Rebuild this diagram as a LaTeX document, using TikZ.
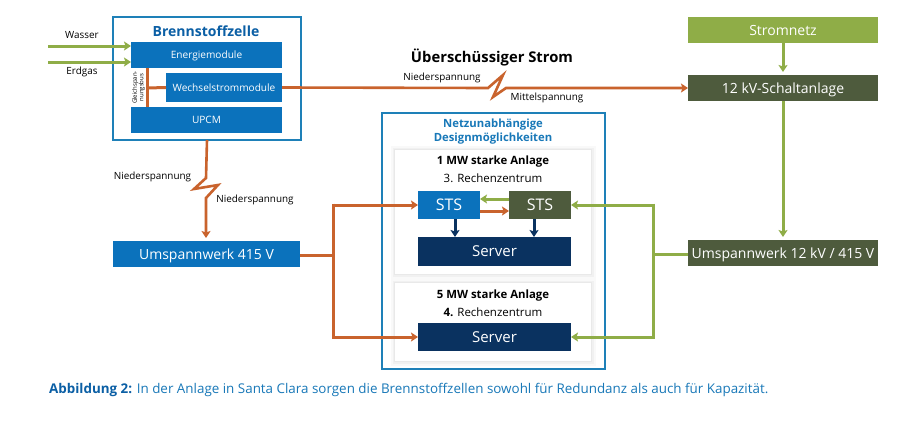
\documentclass[tikz,border=0pt]{standalone}
\usepackage{fontspec}
\setmainfont{Open Sans}
\usetikzlibrary{arrows.meta,calc}
\definecolor{orangeline}{HTML}{C9632D}
\definecolor{greenline}{HTML}{8FAD47}
\definecolor{bluebox}{HTML}{0B72BC}
\definecolor{navybox}{HTML}{0A3260}
\definecolor{darkgreen}{HTML}{4E5B3D}
\definecolor{framebl}{HTML}{1E80B8}
\definecolor{capdark}{HTML}{0B5FA5}
\definecolor{captext}{HTML}{1878B8}
\tikzset{
  cbox/.style={inner sep=0pt,outer sep=0pt,text=white},
  frame/.style={draw=framebl,line width=1.8pt,fill=white,inner sep=0pt,outer sep=0pt},
  panel/.style={fill=white,inner sep=0pt,outer sep=0pt,
    preaction={draw=black,opacity=.025,line width=9pt},
    preaction={draw=black,opacity=.03,line width=5pt},
    preaction={draw=black,opacity=.03,line width=2pt}},
  lab/.style={font=\fontsize{9.9}{11}\selectfont,text=black,inner sep=0pt},
  wire/.style={line width=3pt},
  org/.style={wire,draw=orangeline},
  grn/.style={wire,draw=greenline},
  nav/.style={wire,draw=navybox},
  head/.style={-{Stealth[length=7pt,width=9pt,inset=1.5pt]}},
  ptitle/.style={font=\bfseries\fontsize{11.4}{13}\selectfont,inner sep=0pt},
  psub/.style={font=\fontsize{11.5}{13}\selectfont,inner sep=0pt},
}
\newcommand{\cb}[8]{\node[cbox,fill=#2,minimum width=#5 pt,minimum height=#6 pt,font=\fontsize{#7}{#7}\selectfont] (#1) at (#3,#4) {\raisebox{-0.36em}[0pt][0pt]{#8}};}
\begin{document}
\begin{tikzpicture}[x=1pt,y=-1pt]
\useasboundingbox (0,0) rectangle (900,437);
\fill[white] (0,0) rectangle (900,437);

% frames
\node[frame,minimum width=188pt,minimum height=123pt] (fc) at (207,78.5) {};
\node[frame,minimum width=223pt,minimum height=256pt] (nf) at (493.5,241) {};
\node[panel,minimum width=196pt,minimum height=124pt] (p1) at (493,212) {};
\node[panel,minimum width=196pt,minimum height=78pt] (p2) at (493,322) {};

% fuel cell
\cb{em}{bluebox}{206.5}{55}{151}{26}{10.1}{Energiemodule}
\cb{ws}{bluebox}{224}{87.5}{116}{29}{10.1}{Wechselstrommodule}
\cb{up}{bluebox}{206.5}{120}{151}{26}{10.1}{UPCM}
\node[font=\bfseries\fontsize{14}{16}\selectfont,text=capdark,inner sep=0pt] (fct) at (206,31) {Brennstoffzelle};
\node[font=\fontsize{6}{6.6}\selectfont,rotate=90,align=center,inner sep=0pt] (bus) at (138.5,87.5) {Gleichspan-\\nungsbus};

% other boxes
\cb{sn}{greenline}{783}{30}{190}{26}{14}{Stromnetz}
\cb{sa}{darkgreen}{783}{88}{190}{26}{14}{12 kV-Schaltanlage}
\cb{uh}{darkgreen}{783}{253}{190}{26}{14}{Umspannwerk 12 kV / 415 V}
\cb{ul}{bluebox}{206.5}{254}{187}{26}{14}{Umspannwerk 415 V}
\cb{s1}{bluebox}{449}{205}{62}{28}{16}{STS}
\cb{s2}{darkgreen}{540}{205}{62}{28}{16}{STS}
\cb{sv1}{navybox}{494.5}{251.5}{153}{29}{15}{Server}
\cb{sv2}{navybox}{494.5}{337}{153}{28}{15}{Server}

% frame titles
\node[font=\bfseries\fontsize{11.3}{14}\selectfont,text=captext,align=center,inner sep=0pt] (nt) at (493,132) {Netzunabhängige\\Designmöglichkeiten};
\node[ptitle] (t1) at (493,162) {1 MW starke Anlage};
\node[psub] (t1b) at (493,178) {3. Rechenzentrum};
\node[ptitle] (t2) at (493,295.5) {5 MW starke Anlage};
\node[psub] (t2b) at (493,312) {\textbf{4.} Rechenzentrum};

% labels
\node[lab] (wa) at (82,35) {Wasser};
\node[lab] (eg) at (82,72) {Erdgas};
\node[font=\bfseries\fontsize{14.8}{16}\selectfont,inner sep=0pt] (ue) at (492,57) {Überschüssiger Strom};
\node[lab] (n1) at (442,77.5) {Niederspannung};
\node[lab] (m1) at (547,97.5) {Mittelspannung};
\node[lab] (n2) at (152.5,177) {Niederspannung};
\node[lab] (n3) at (255,200) {Niederspannung};

% coordinates
\coordinate (wain) at (48,46);
\coordinate (egin) at (48,62);
\coordinate (z1a) at (488,88);
\coordinate (z1b) at (503,75);
\coordinate (z1c) at (493,97);
\coordinate (z1d) at (506,88);
\coordinate (z2a) at (206,178);
\coordinate (z2b) at (194,189);
\coordinate (z2c) at (218,185);
\coordinate (z2d) at (206,198);
\coordinate (oj) at (333,255);
\coordinate (gj) at (653,254);

% green inputs
\draw[grn,head] (wain) -- (wain-|em.west);
\draw[grn,head] (egin) -- (egin-|em.west);
% DC bus
\draw[org] (147,68) -- (147,107);
\draw[org] (147,88) -- (ws.west);
% surplus line
\draw[org,head,line join=miter,miter limit=20,line width=2.6pt] (ws.east) -- (z1a) -- (z1b) -- (z1c) -- (z1d) -- (sa.west);
% down to 415 V
\draw[org,head,line join=miter,miter limit=20,line width=2.6pt] (fc.south) -- (z2a) -- (z2b) -- (z2c) -- (z2d) -- ([yshift=3pt]ul.north-|z2d);
% 415 V distribution
\draw[org] (oj-|ul.east) -- (oj);
\draw[org,head] (oj|-s1.west) -- (s1.west);
\draw[org,head] (oj|-sv2.west) -- (sv2.west);
\draw[org] ([yshift=1.5pt]oj|-s1.west) -- ([yshift=-1.5pt]oj|-sv2.west);
% grid
\draw[grn,head] (sn.south) -- ([yshift=3pt]sa.north);
\draw[grn,head] (sa.south) -- ([yshift=3pt]uh.north);
\draw[grn] (uh.west|-gj) -- (gj);
\draw[grn] ([yshift=1.5pt]gj|-s2.east) -- ([yshift=-1.5pt]gj|-sv2.east);
\draw[grn,head] (gj|-s2.east) -- (s2.east);
\draw[grn,head] (gj|-sv2.east) -- (sv2.east);
% STS links
\draw[grn,head] ([yshift=6pt]s2.west) -- ([yshift=6pt]s1.east);
\draw[org,head] ([yshift=-6pt]s1.east) -- ([yshift=-6pt]s2.west);
\draw[nav,head] (455,219) -- (455,237);
\draw[nav,head] (534,219) -- (534,237);

% caption
\node[anchor=west,inner sep=0pt,font=\fontsize{13.4}{15}\selectfont,text=captext] (cap) at (49,390) {\textcolor{capdark}{\textbf{Abbildung 2:}} In der Anlage in Santa Clara sorgen die Brennstoffzellen sowohl für Redundanz als auch für Kapazität.};
\end{tikzpicture}
\end{document}
